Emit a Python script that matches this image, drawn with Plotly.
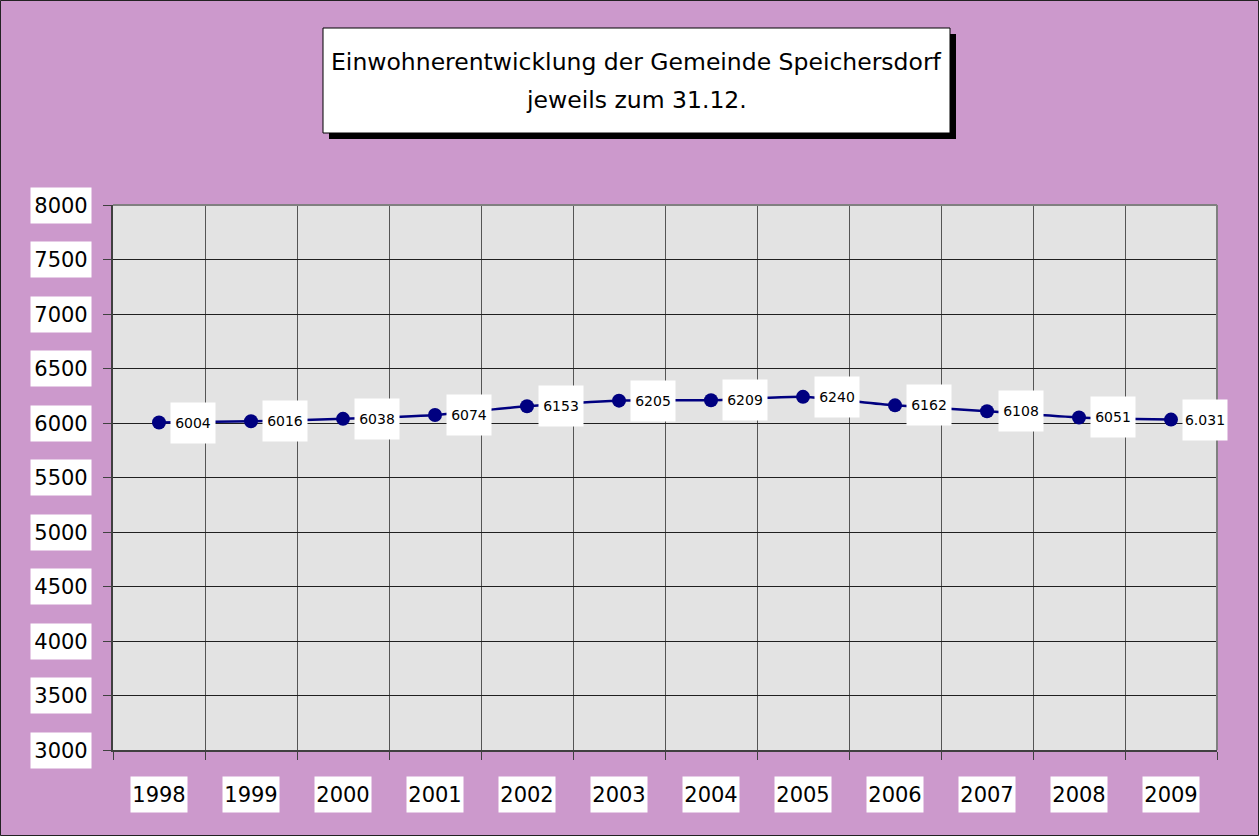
import plotly.graph_objects as go

years = ["1998", "1999", "2000", "2001", "2002", "2003", "2004", "2005", "2006", "2007", "2008", "2009"]
population = [6004, 6016, 6038, 6074, 6153, 6205, 6209, 6240, 6162, 6108, 6051, 6031]
point_labels = ["6004", "6016", "6038", "6074", "6153", "6205", "6209", "6240", "6162", "6108", "6051", "6.031"]
y_ticks = [3000, 3500, 4000, 4500, 5000, 5500, 6000, 6500, 7000, 7500, 8000]
title_lines = ["Einwohnerentwicklung der Gemeinde Speichersdorf", "jeweils zum 31.12."]

W, H = 1259, 836
L, R, T, B = 113, 1217, 205, 750
FONT = "DejaVu Sans"


def px_x(px):
    return (px - L) / (R - L)


def px_y(py):
    return (B - py) / (B - T)


fig = go.Figure()
fig.add_trace(go.Scatter(
    x=years, y=population, mode="lines+markers",
    line=dict(color="#000080", width=2.5, shape="spline", smoothing=0.5),
    marker=dict(color="#000080", size=14, symbol="circle"),
    hoverinfo="x+y", showlegend=False,
))

annotations = []
for i, (val, lab) in enumerate(zip(population, point_labels)):
    annotations.append(dict(
        x=i, y=val, xref="x", yref="y", text=lab, showarrow=False,
        xshift=34, width=42, height=38, bgcolor="white",
        font=dict(family=FONT, size=14, color="black"),
    ))
for v in y_ticks:
    annotations.append(dict(
        x=0, y=v, xref="paper", yref="y", text=str(v), showarrow=False,
        xanchor="right", xshift=-21, width=58, height=33, bgcolor="white",
        font=dict(family=FONT, size=21, color="black"),
    ))
for i, yr in enumerate(years):
    annotations.append(dict(
        x=i, y=0, xref="x", yref="paper", text=yr, showarrow=False,
        yanchor="top", yshift=-26, width=54, height=33, bgcolor="white",
        font=dict(family=FONT, size=21, color="black"),
    ))
for i, line in enumerate(title_lines):
    annotations.append(dict(
        x=px_x(636), y=px_y(62 + 38 * i), xref="paper", yref="paper",
        text=line, showarrow=False, xanchor="center", yanchor="middle",
        font=dict(family=FONT, size=23.5, color="black"),
    ))

shapes = [
    # figure border
    dict(type="rect", xref="paper", yref="paper",
         x0=px_x(0.5), x1=px_x(W - 0.5), y0=px_y(0.5), y1=px_y(H - 0.5),
         line=dict(color="#222222", width=1), layer="below"),
    # title shadow
    dict(type="rect", xref="paper", yref="paper",
         x0=px_x(329), x1=px_x(956), y0=px_y(34), y1=px_y(139),
         fillcolor="black", line=dict(width=0)),
    # title box
    dict(type="rect", xref="paper", yref="paper",
         x0=px_x(323), x1=px_x(950), y0=px_y(28), y1=px_y(133),
         fillcolor="white", line=dict(color="black", width=1)),
    # top and right plot border
    dict(type="line", xref="paper", yref="paper", x0=0, x1=1, y0=1, y1=1,
         line=dict(color="#808080", width=2)),
    dict(type="line", xref="paper", yref="paper", x0=1, x1=1, y0=0, y1=1,
         line=dict(color="#808080", width=2)),
]

fig.update_layout(
    width=W, height=H,
    margin=dict(l=L, r=W - R, t=T, b=H - B),
    paper_bgcolor="#CC99CC", plot_bgcolor="#E3E3E3",
    annotations=annotations, shapes=shapes,
    showlegend=False,
    font=dict(family=FONT),
)
fig.update_xaxes(
    type="category", categoryorder="array", categoryarray=years,
    tickson="boundaries", ticks="outside", ticklen=8, tickcolor="#404040",
    showticklabels=False, showgrid=True, gridcolor="#555555", gridwidth=1,
    showline=True, linecolor="#404040", linewidth=2, zeroline=False,
    range=[-0.5, 11.5],
)
fig.update_yaxes(
    range=[3000, 8000], tickvals=y_ticks, ticks="outside", ticklen=8,
    tickcolor="#404040", showticklabels=False, showgrid=True,
    gridcolor="#202020", gridwidth=1, showline=True, linecolor="#404040",
    linewidth=2, zeroline=False,
)

fig.write_html(
    "out.html",
    config={"displayModeBar": False},
    post_script="document.body.style.margin='0';document.body.style.overflow='hidden';",
)
